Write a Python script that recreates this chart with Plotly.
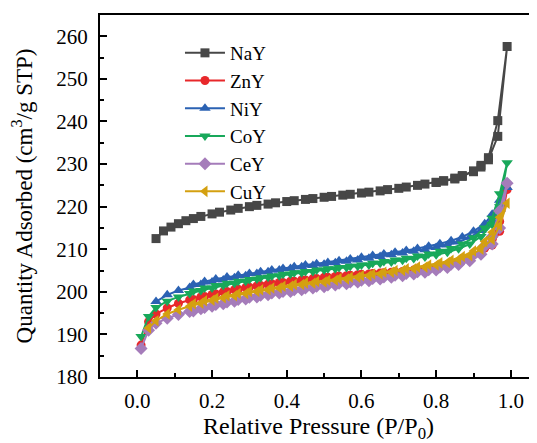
import plotly.graph_objects as go

# ---------------- data ----------------
NAY_X_ADS = [0.05, 0.07, 0.09, 0.11, 0.13, 0.15, 0.17, 0.2, 0.22, 0.25, 0.27, 0.3, 0.32, 0.35, 0.37,
             0.4, 0.42, 0.45, 0.47, 0.5, 0.52, 0.55, 0.57, 0.6, 0.62, 0.65, 0.67, 0.7, 0.72, 0.75,
             0.77, 0.8, 0.82, 0.85, 0.87, 0.9, 0.92, 0.94, 0.965, 0.99]
NAY_Y_ADS = [212.5, 214.3, 215.2, 216.0, 216.7, 217.2, 217.7, 218.3, 218.7, 219.2,
             219.6, 220.0, 220.3, 220.6, 220.9, 221.2, 221.4, 221.7, 221.9, 222.2,
             222.4, 222.7, 222.9, 223.2, 223.4, 223.7, 224.0, 224.3, 224.6, 225.0,
             225.3, 225.7, 226.1, 226.7, 227.3, 228.4, 229.7, 231.5, 240.2, 257.6]
NAY_X_DES = [0.965, 0.94, 0.92, 0.9, 0.87, 0.85, 0.82, 0.8]
NAY_Y_DES = [236.5, 231.0, 229.3, 228.2, 227.1, 226.5, 226.0, 225.7]

X_ADS = [0.01, 0.03, 0.05, 0.08, 0.11, 0.14, 0.17, 0.2, 0.23, 0.26, 0.29, 0.32, 0.35, 0.38, 0.41,
         0.44, 0.47, 0.5, 0.53, 0.56, 0.59, 0.62, 0.65, 0.68, 0.71, 0.74, 0.77, 0.8, 0.83, 0.86,
         0.89, 0.92, 0.95, 0.97, 0.99]
X_DES = [0.97, 0.95, 0.93, 0.9, 0.87, 0.84, 0.81, 0.78, 0.75, 0.72, 0.69, 0.66, 0.63, 0.6, 0.57,
         0.54, 0.51, 0.48, 0.45, 0.42, 0.39, 0.36, 0.33, 0.3, 0.27, 0.24, 0.21, 0.18, 0.15]

ZNY_ADS = [187.5, 193.0, 194.8, 196.2, 197.3, 198.1, 198.8, 199.4, 200.0, 200.5,
           201.0, 201.4, 201.8, 202.2, 202.5, 202.8, 203.1, 203.4, 203.6, 203.8,
           204.0, 204.2, 204.4, 204.6, 204.8, 205.1, 205.4, 205.8, 206.3, 206.9,
           207.8, 209.1, 211.0, 214.2, 224.0]
ZNY_DES = [216.5, 212.3, 210.3, 208.7, 207.6, 206.8, 206.2, 205.7, 205.3, 205.0,
           204.7, 204.5, 204.3, 204.1, 203.9, 203.7, 203.4, 203.1, 202.8, 202.5,
           202.2, 201.9, 201.5, 201.1, 200.6, 200.1, 199.5, 198.9, 198.2]

NIY_ADS = [None, None, 197.7, 199.3, 200.3, 201.0, 201.7, 202.3, 202.8, 203.3,
           203.8, 204.3, 204.7, 205.1, 205.5, 205.9, 206.2, 206.5, 206.8, 207.2,
           207.5, 207.9, 208.3, 208.7, 209.1, 209.5, 209.9, 210.4, 211.0, 211.7,
           212.8, 214.4, 216.8, 219.5, 224.5]
NIY_DES = [221.5, 218.2, 216.0, 214.2, 212.9, 212.0, 211.3, 210.7, 210.2, 209.7,
           209.3, 208.9, 208.5, 208.1, 207.7, 207.3, 206.9, 206.6, 206.3, 205.9,
           205.5, 205.1, 204.7, 204.3, 203.9, 203.5, 203.0, 202.4, 201.7]

COY_ADS = [189.5, 194.2, 196.3, 197.8, 198.8, 199.6, 200.3, 200.9, 201.5, 202.0,
           202.5, 203.0, 203.4, 203.8, 204.2, 204.5, 204.8, 205.1, 205.4, 205.7,
           206.0, 206.3, 206.7, 207.0, 207.4, 207.8, 208.2, 208.7, 209.3, 210.1,
           211.2, 213.0, 215.8, 220.0, 230.3]
COY_DES = [223.0, 217.3, 215.0, 212.7, 211.2, 210.2, 209.5, 208.9, 208.4, 207.9,
           207.5, 207.1, 206.7, 206.3, 206.0, 205.7, 205.4, 205.1, 204.8, 204.5,
           204.1, 203.7, 203.3, 202.9, 202.5, 202.0, 201.5, 200.9, 200.2]

CEY_ADS = [186.7, 191.0, 192.6, 193.8, 194.7, 195.4, 196.0, 196.6, 197.2, 197.8,
           198.3, 198.8, 199.3, 199.7, 200.1, 200.5, 200.9, 201.2, 201.6, 201.9,
           202.3, 202.6, 203.0, 203.4, 203.8, 204.2, 204.6, 205.1, 205.7, 206.4,
           207.3, 208.8, 211.2, 215.0, 225.5]
CEY_DES = [219.0, 213.0, 210.8, 208.7, 207.4, 206.5, 205.8, 205.2, 204.7, 204.3,
           203.9, 203.5, 203.1, 202.7, 202.3, 202.0, 201.6, 201.3, 200.9, 200.5,
           200.1, 199.7, 199.2, 198.7, 198.2, 197.6, 197.0, 196.3, 195.5]

CUY_ADS = [None, 191.5, 193.2, 194.8, 195.8, 196.6, 197.3, 198.0, 198.6, 199.1,
           199.6, 200.1, 200.5, 200.9, 201.3, 201.7, 202.0, 202.3, 202.7, 203.0,
           203.4, 203.8, 204.2, 204.6, 205.0, 205.4, 205.8, 206.3, 206.9, 207.6,
           208.5, 210.0, 212.3, 215.5, 220.8]
CUY_DES = [217.5, 214.0, 211.8, 209.6, 208.3, 207.4, 206.8, 206.3, 205.8, 205.4,
           205.0, 204.6, 204.2, 203.8, 203.4, 203.1, 202.7, 202.4, 202.1, 201.7,
           201.3, 200.9, 200.5, 200.1, 199.6, 199.1, 198.5, 197.9, 197.2]

X_TICKS = [0.0, 0.2, 0.4, 0.6, 0.8, 1.0]
X_TICK_TEXT = ["0.0", "0.2", "0.4", "0.6", "0.8", "1.0"]
Y_TICKS = [180, 190, 200, 210, 220, 230, 240, 250, 260]

FONT = "Liberation Serif"

series = [
    ("NaY", NAY_X_ADS + NAY_X_DES, NAY_Y_ADS + NAY_Y_DES, "#474747", "square", 9),
    ("ZnY", X_ADS + X_DES, ZNY_ADS + ZNY_DES, "#e8282b", "circle", 9),
    ("NiY", X_ADS + X_DES, NIY_ADS + NIY_DES, "#2b62b3", "triangle-up", 10),
    ("CoY", X_ADS + X_DES, COY_ADS + COY_DES, "#18a85a", "triangle-down", 10),
    ("CeY", X_ADS + X_DES, CEY_ADS + CEY_DES, "#a57cba", "diamond", 10),
    ("CuY", X_ADS + X_DES, CUY_ADS + CUY_DES, "#d4a010", "triangle-left", 10),
]

fig = go.Figure()
for name, xs, ys, color, sym, size in series:
    fig.add_trace(go.Scatter(
        x=xs, y=ys, name=name, mode="lines+markers",
        line=dict(color=color, width=2),
        marker=dict(symbol=sym, size=size, color=color),
    ))

# the page body has an 8px margin, so the figure is sized to the visible area
fig.update_layout(
    width=529, height=435,
    margin=dict(l=92, r=0, t=7, b=66),
    plot_bgcolor="white", paper_bgcolor="white",
    font=dict(family=FONT, size=21, color="black"),
    showlegend=True,
    legend=dict(x=0.183, y=0.9475, xanchor="left", yanchor="top",
                bgcolor="rgba(0,0,0,0)", font=dict(size=19, family=FONT, color="black"),
                tracegroupgap=0, itemwidth=40),
)
fig.update_xaxes(
    range=[-0.1, 1.07], tickvals=X_TICKS, ticktext=X_TICK_TEXT,
    ticks="inside", ticklen=7, tickwidth=2, tickcolor="black",
    minor=dict(tickvals=[0.1, 0.3, 0.5, 0.7, 0.9], ticks="inside", ticklen=4, tickwidth=2, tickcolor="black"),
    showline=True, linewidth=2, linecolor="black", mirror=True,
    showgrid=False, zeroline=False, automargin=False,
    tickfont=dict(family=FONT, size=21, color="black"),
    ticklabelstandoff=4,
    title=dict(text="Relative Pressure (P/P<sub>0</sub>)", font=dict(size=24, family=FONT, color="black"), standoff=3),
)
fig.update_yaxes(
    range=[180, 265], tickvals=Y_TICKS,
    ticks="inside", ticklen=7, tickwidth=2, tickcolor="black",
    minor=dict(dtick=5, ticks="inside", ticklen=4, tickwidth=2, tickcolor="black"),
    showline=True, linewidth=2, linecolor="black", mirror=False,
    showgrid=False, zeroline=False, automargin=False,
    tickfont=dict(family=FONT, size=21, color="black"),
    ticklabelstandoff=6,
    title=dict(text="Quantity Adsorbed (cm<sup>3</sup>/g STP)", font=dict(size=23, family=FONT, color="black"), standoff=18),
)

fig.write_html("out.html")
